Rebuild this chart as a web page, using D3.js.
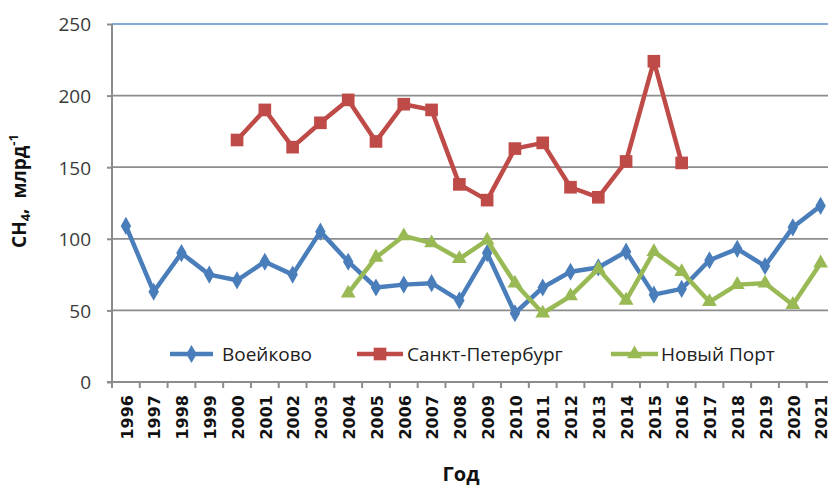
<!DOCTYPE html>
<html>
<head>
<meta charset="utf-8">
<script src="https://cdn.jsdelivr.net/npm/d3@7"></script>
<style>
  html, body { margin: 0; padding: 0; background: #fff; }
  svg { display: block; }
</style>
</head>
<body>
<svg id="chart" width="828" height="487"></svg>
<script>
// Methane (CH4) concentrations by station, 1996–2021
const years = ["1996","1997","1998","1999","2000","2001","2002","2003","2004","2005","2006","2007","2008",
               "2009","2010","2011","2012","2013","2014","2015","2016","2017","2018","2019","2020","2021"];

const voeikovo = [109, 63, 90, 75, 71, 84, 75, 105, 84, 66, 68, 69, 57,
                  90, 48, 66, 77, 80, 91, 61, 65, 85, 93, 81, 108, 123];

const spbYears = ["2000","2001","2002","2003","2004","2005","2006","2007","2008",
                  "2009","2010","2011","2012","2013","2014","2015","2016"];
const spb = [169, 190, 164, 181, 197, 168, 194, 190, 138, 127, 163, 167, 136, 129, 154, 224, 153];

const portYears = ["2004","2005","2006","2007","2008","2009","2010","2011","2012",
                   "2013","2014","2015","2016","2017","2018","2019","2020","2021"];
const novyPort = [62, 87, 102, 97, 86, 99, 69, 48, 60, 79, 57, 91, 77, 56, 68, 69, 54, 83];

const yTicks = [0, 50, 100, 150, 200, 250];
const seriesNames = ["Воейково", "Санкт-Петербург", "Новый Порт"];

const svg = d3.select("#chart");
const plotLeft = 112, plotRight = 834.5, plotTop = 24, plotBottom = 382;

const x = d3.scaleBand().domain(years).range([plotLeft, plotRight]);
const y = d3.scaleLinear().domain([0, 250]).range([plotBottom, plotTop]);

const tickFont = "'Open Sans', 'Noto Sans', sans-serif";

// horizontal gridlines
svg.append("g")
  .selectAll("line")
  .data(yTicks.filter(v => v > 0))
  .join("line")
  .attr("x1", plotLeft).attr("x2", plotRight)
  .attr("y1", d => y(d)).attr("y2", d => y(d))
  .attr("stroke", d => d === 250 ? "#5b8ccc" : "#8c8c8c")
  .attr("stroke-width", d => d === 250 ? 1.6 : 1.8);

// y axis
const yAxis = svg.append("g")
  .attr("transform", `translate(${plotLeft},0)`)
  .call(d3.axisLeft(y).tickValues(yTicks).tickSize(5).tickPadding(16));
yAxis.select(".domain").attr("stroke", "#8c8c8c").attr("stroke-width", 2)
  .attr("d", `M0,${y(250)}V${plotBottom + 5}`);
yAxis.selectAll(".tick line").attr("stroke", "#8c8c8c").attr("stroke-width", 2);
yAxis.selectAll(".tick text")
  .attr("font-family", tickFont).attr("font-size", 19).attr("fill", "#3a3a3a")
  .attr("dy", "0.36em");

// x axis
const xAxis = svg.append("g")
  .attr("transform", `translate(0,${plotBottom})`)
  .call(d3.axisBottom(x).tickSize(0).tickFormat(""));
xAxis.select(".domain").attr("stroke", "#8c8c8c").attr("stroke-width", 2)
  .attr("d", `M${plotLeft - 5},0H${plotRight}`);
// tick marks on category boundaries
svg.append("g")
  .selectAll("line")
  .data(years)
  .join("line")
  .attr("x1", d => x(d)).attr("x2", d => x(d))
  .attr("y1", plotBottom).attr("y2", plotBottom + 6)
  .attr("stroke", "#8c8c8c").attr("stroke-width", 2);
// rotated year labels
svg.append("g")
  .selectAll("text")
  .data(years)
  .join("text")
  .attr("transform", d => `translate(${x(d) + x.bandwidth() / 2 + 1},395) rotate(-90)`)
  .attr("text-anchor", "end")
  .attr("dy", "0.36em")
  .attr("font-family", "'DejaVu Sans', sans-serif")
  .attr("font-weight", "bold")
  .attr("font-size", 16)
  .attr("fill", "#111")
  .text(d => d);

// axis titles
const yTitle = svg.append("text")
  .attr("transform", "translate(26,191) rotate(-90)")
  .attr("text-anchor", "middle")
  .attr("font-family", tickFont)
  .attr("font-weight", "bold")
  .attr("font-size", 19)
  .attr("fill", "#111");
yTitle.append("tspan").text("CH");
yTitle.append("tspan").attr("font-size", 13).attr("dy", 4).text("4");
yTitle.append("tspan").attr("dy", -4).text(",\u00A0\u00A0млрд");
yTitle.append("tspan").attr("font-size", 13).attr("dy", -8).text("-1");

svg.append("text")
  .attr("x", 461).attr("y", 481)
  .attr("text-anchor", "middle")
  .attr("font-family", tickFont)
  .attr("font-weight", "bold")
  .attr("font-size", 20)
  .attr("fill", "#111")
  .text("Год");

// series
const colors = ["#4a7ebb", "#be4b48", "#98b954"];
const series = [
  { name: seriesNames[0], xs: years, vs: voeikovo, color: colors[0], sym: d3.symbolDiamond, size: 95 },
  { name: seriesNames[1], xs: spbYears, vs: spb, color: colors[1], sym: d3.symbolSquare, size: 160 },
  { name: seriesNames[2], xs: portYears, vs: novyPort, color: colors[2], sym: d3.symbolTriangle, size: 95 }
];

const line = d3.line()
  .x(d => x(d[0]) + x.bandwidth() / 2)
  .y(d => y(d[1]));

series.forEach(s => {
  const pts = s.xs.map((yr, i) => [yr, s.vs[i]]);
  const g = svg.append("g");
  g.append("path")
    .datum(pts)
    .attr("d", line)
    .attr("fill", "none")
    .attr("stroke", s.color)
    .attr("stroke-width", 4.5)
    .attr("stroke-linejoin", "round");
  g.selectAll("path.m")
    .data(pts)
    .join("path")
    .attr("class", "m")
    .attr("transform", d => `translate(${x(d[0]) + x.bandwidth() / 2},${y(d[1])})`)
    .attr("d", d3.symbol(s.sym, s.size))
    .attr("fill", s.color);
});

// legend
const legendItems = [
  { x0: 170, x1: 213, tx: 222 },
  { x0: 357, x1: 403, tx: 407 },
  { x0: 611, x1: 658, tx: 661 }
];
const legend = svg.append("g");
series.forEach((s, i) => {
  const it = legendItems[i];
  const ly = 354;
  legend.append("line")
    .attr("x1", it.x0).attr("x2", it.x1)
    .attr("y1", ly).attr("y2", ly)
    .attr("stroke", s.color).attr("stroke-width", 4.5);
  legend.append("path")
    .attr("transform", `translate(${(it.x0 + it.x1) / 2},${ly})`)
    .attr("d", d3.symbol(s.sym, s.size))
    .attr("fill", s.color);
  legend.append("text")
    .attr("x", it.tx).attr("y", ly)
    .attr("dy", "0.36em")
    .attr("font-family", tickFont)
    .attr("font-size", 19)
    .attr("fill", "#222")
    .text(s.name);
});
</script>
</body>
</html>
